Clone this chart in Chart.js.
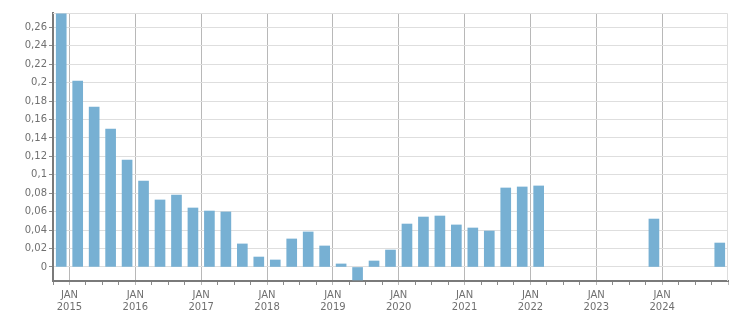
<!DOCTYPE html>
<html>
<head>
<meta charset="utf-8">
<script src="https://cdn.jsdelivr.net/npm/chart.js@4.4.1/dist/chart.umd.min.js"></script>
<style>
  body { margin: 0; background: #fff; }
  #wrap { width: 751px; height: 313px; }
</style>
</head>
<body>
<div id="wrap"><canvas id="myChart" width="751" height="313"></canvas></div>
<script>
// quarters, one bar per quarter
const quarters = [
  '2014 Q4',
  '2015 Q1', '2015 Q2', '2015 Q3', '2015 Q4',
  '2016 Q1', '2016 Q2', '2016 Q3', '2016 Q4',
  '2017 Q1', '2017 Q2', '2017 Q3', '2017 Q4',
  '2018 Q1', '2018 Q2', '2018 Q3', '2018 Q4',
  '2019 Q1', '2019 Q2', '2019 Q3', '2019 Q4',
  '2020 Q1', '2020 Q2', '2020 Q3', '2020 Q4',
  '2021 Q1', '2021 Q2', '2021 Q3', '2021 Q4',
  '2022 Q1', '2022 Q2', '2022 Q3', '2022 Q4',
  '2023 Q1', '2023 Q2', '2023 Q3', '2023 Q4',
  '2024 Q1', '2024 Q2', '2024 Q3', '2024 Q4'
];
const values = [
  0.2745,
  0.2017, 0.1735, 0.1497, 0.116,
  0.0933, 0.0727, 0.078, 0.064,
  0.0607, 0.0597, 0.025, 0.0108,
  0.0076, 0.0304, 0.038, 0.0228,
  0.0033, -0.0141, 0.0065, 0.0184,
  0.0466, 0.0542, 0.0553, 0.0456,
  0.0423, 0.039, 0.0857, 0.0868,
  0.0879, null, null, null,
  null, null, null, 0.052,
  null, null, null, 0.026
];
const yearTicks = [2015, 2016, 2017, 2018, 2019, 2020, 2021, 2022, 2023, 2024];
const yTicks = [0, 0.02, 0.04, 0.06, 0.08, 0.1, 0.12, 0.14, 0.16, 0.18, 0.2, 0.22, 0.24, 0.26];

// bar sits in the middle of its quarter
const points = [];
quarters.forEach((q, i) => {
  if (values[i] === null) return;
  const parts = q.split(' Q');
  const x = Number(parts[0]) + (Number(parts[1]) - 1) * 0.25 + 0.125;
  points.push({x: x, y: values[i]});
});

function fmt(v) {
  let s = (Math.round(v * 100) / 100).toString();
  return s.replace('.', ',');
}

const frame = {
  id: 'frame',
  beforeDatasetsDraw(chart) {
    const a = chart.chartArea;
    const ctx = chart.ctx;
    ctx.save();
    ctx.strokeStyle = '#dddddd';
    ctx.lineWidth = 1;
    ctx.beginPath();
    ctx.moveTo(a.left, a.top + 0.5);
    ctx.lineTo(a.right - 0.5, a.top + 0.5);
    ctx.lineTo(a.right - 0.5, a.bottom);
    ctx.stroke();
    ctx.restore();
  }
};

const ctx = document.getElementById('myChart').getContext('2d');
new Chart(ctx, {
  type: 'bar',
  data: {
    datasets: [{
      data: points,
      backgroundColor: '#77b0d3',
      borderWidth: 0,
      barThickness: 10
    }]
  },
  options: {
    responsive: false,
    animation: false,
    layout: { padding: { top: 13, right: 23, left: 0, bottom: 0 } },
    plugins: { legend: { display: false }, tooltip: { enabled: false } },
    scales: {
      x: {
        type: 'linear',
        min: 2014.75,
        max: 2025,
        offset: false,
        afterBuildTicks(scale) {
          const t = [];
          for (let v = 2014.75; v <= 2025; v += 0.25) t.push({value: v});
          scale.ticks = t;
        },
        afterFit(scale) { scale.height = 32; },
        grid: {
          offset: false,
          color: (c) => Number.isInteger(c.tick && c.tick.value) && c.tick.value < 2025 ? '#b8b8b8' : 'rgba(0,0,0,0)',
          tickColor: (c) => Number.isInteger(c.tick && c.tick.value) ? '#b8b8b8' : '#8a8a8a',
          tickLength: 4,
          drawOnChartArea: true
        },
        border: { color: '#7a7a7a', width: 2 },
        ticks: {
          autoSkip: false,
          maxRotation: 0,
          padding: 4,
          color: '#707070',
          font: { family: 'DejaVu Sans', size: 10 },
          callback: (v) => yearTicks.includes(v) ? ['JAN', String(v)] : ''
        }
      },
      y: {
        min: -0.0152,
        max: 0.2755,
        afterBuildTicks(scale) {
          scale.ticks = yTicks.map(v => ({value: v}));
        },
        afterFit(scale) { scale.width = 53; },
        grid: {
          color: '#dedede',
          tickColor: '#8a8a8a',
          tickLength: 4
        },
        border: { color: '#7a7a7a', width: 2 },
        ticks: {
          padding: 2,
          color: '#707070',
          font: { family: 'DejaVu Sans', size: 10 },
          callback: (v) => fmt(v)
        }
      }
    }
  },
  plugins: [frame]
});
</script>
</body>
</html>
